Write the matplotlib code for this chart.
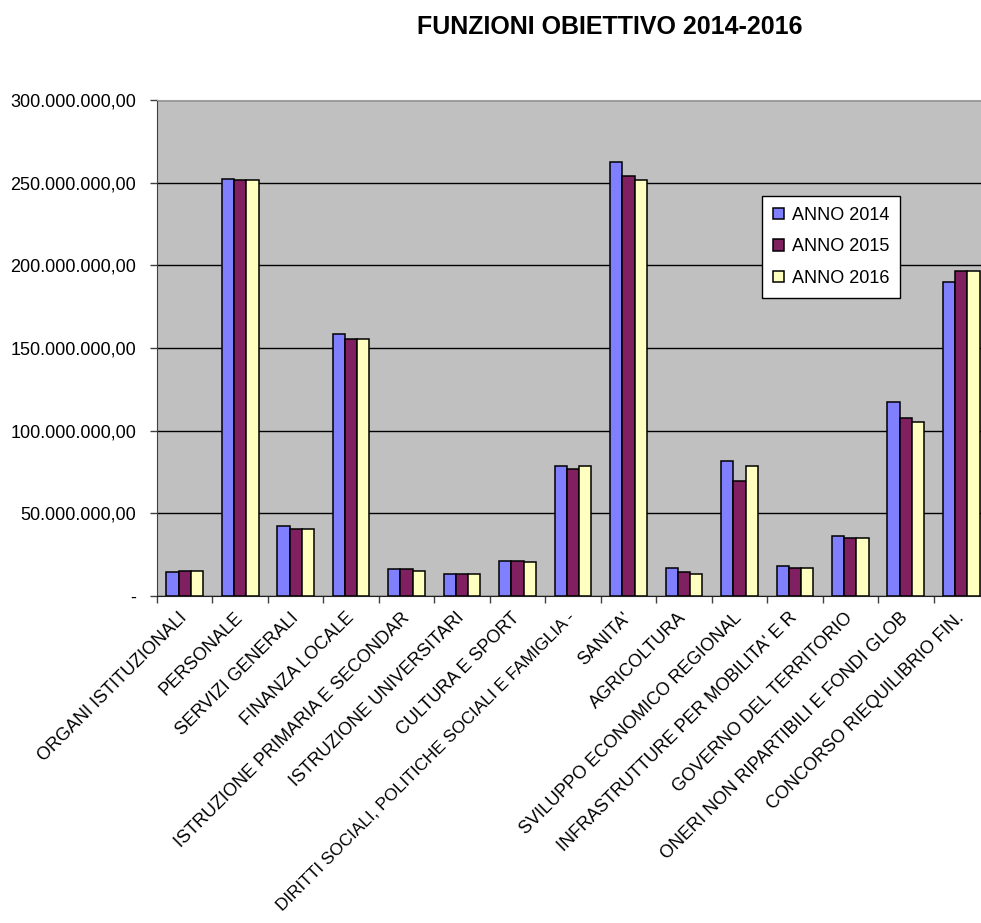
import matplotlib
matplotlib.use("Agg")
import matplotlib.pyplot as plt
import numpy as np
from matplotlib.ticker import FuncFormatter

plt.rcParams['font.family'] = ['Liberation Sans', 'DejaVu Sans']

categories = [
    "ORGANI ISTITUZIONALI", "PERSONALE", "SERVIZI GENERALI", "FINANZA LOCALE",
    "ISTRUZIONE PRIMARIA E SECONDAR", "ISTRUZIONE UNIVERSITARI", "CULTURA E SPORT",
    "DIRITTI SOCIALI, POLITICHE SOCIALI E FAMIGLIA -", "SANITA'", "AGRICOLTURA",
    "SVILUPPO ECONOMICO REGIONAL", "INFRASTRUTTURE PER MOBILITA' E R",
    "GOVERNO DEL TERRITORIO", "ONERI NON RIPARTIBILI E FONDI GLOB",
    "CONCORSO RIEQUILIBRIO FIN.",
]
series_names = ["ANNO 2014", "ANNO 2015", "ANNO 2016"]
anno_2014 = [14.3e6, 252.3e6, 42.5e6, 158.5e6, 16.1e6, 13.3e6, 21.2e6, 78.8e6,
             262.7e6, 17.1e6, 81.9e6, 18.3e6, 36.5e6, 117.2e6, 189.8e6]
anno_2015 = [15.3e6, 251.5e6, 40.3e6, 155.7e6, 16.1e6, 13.3e6, 21.2e6, 76.8e6,
             254.3e6, 14.3e6, 69.8e6, 17.1e6, 35.3e6, 107.9e6, 196.8e6]
anno_2016 = [15.3e6, 251.5e6, 40.3e6, 155.7e6, 15.3e6, 13.3e6, 20.4e6, 78.8e6,
             251.5e6, 13.3e6, 78.8e6, 17.1e6, 35.3e6, 105.1e6, 196.8e6]
title = "FUNZIONI OBIETTIVO 2014-2016"

colors = ["#8080FF", "#802060", "#FFFFC0"]

W, H = 981, 923
fig = plt.figure(figsize=(W / 100, H / 100), dpi=100)
ax = fig.add_axes([157 / W, 1 - 596 / H, 832 / W, 496 / H])
ax.set_facecolor("#C0C0C0")

x = np.arange(len(categories))
bw = 0.22
for i, (vals, name, c) in enumerate(zip([anno_2014, anno_2015, anno_2016], series_names, colors)):
    ax.bar(x + (i - 1) * bw, vals, width=bw, color=c, edgecolor="black",
           linewidth=1.1, label=name, zorder=3)

ax.set_xlim(-0.5, len(categories) - 0.5)
ax.set_ylim(0, 300e6)
ax.set_yticks(np.arange(0, 300e6 + 1, 50e6))


def fmt(v, pos):
    if v == 0:
        return "-"
    s = f"{v:,.2f}"
    return s.replace(",", "X").replace(".", ",").replace("X", ".")


ax.yaxis.set_major_formatter(FuncFormatter(fmt))
ax.grid(axis="y", color="black", linewidth=1.0, zorder=1)
ax.set_axisbelow(True)

ax.set_xticks(x)
labels = ax.set_xticklabels(categories, rotation=45, ha="right", va="center",
                            rotation_mode="anchor", fontsize=13)
# the longest label would run past the bottom edge; shrink it slightly
longest = max(range(len(categories)), key=lambda k: len(categories[k]))
labels[longest].set_fontsize(12.4)
ax.tick_params(axis="x", which="major", length=0, pad=14)
ax.set_xticks(np.arange(-0.5, len(categories), 1), minor=True)
ax.tick_params(axis="x", which="minor", length=5, width=1, color="#404040")
ax.tick_params(axis="y", length=5, width=1, color="#404040", labelsize=13, pad=10)

ax.spines["left"].set_color("#404040")
ax.spines["bottom"].set_color("#202020")
ax.spines["top"].set_color("#a0a0a0")
ax.spines["right"].set_color("#a0a0a0")

leg = fig.legend(loc="upper left", bbox_to_anchor=(762 / W, 1 - 196 / H),
                 fontsize=13, frameon=True, fancybox=False, edgecolor="black",
                 framealpha=1.0,
                 handlelength=0.6, handleheight=0.6, handletextpad=0.45,
                 labelspacing=0.8, borderpad=0.6, borderaxespad=0)
leg.get_frame().set_linewidth(1.0)
leg.get_frame().set_facecolor("white")

fig.text(610 / W, 1 - 27 / H, title, ha="center", va="center",
         fontsize=18, fontweight="bold")

fig.savefig("out.png", dpi=100, facecolor="white")
